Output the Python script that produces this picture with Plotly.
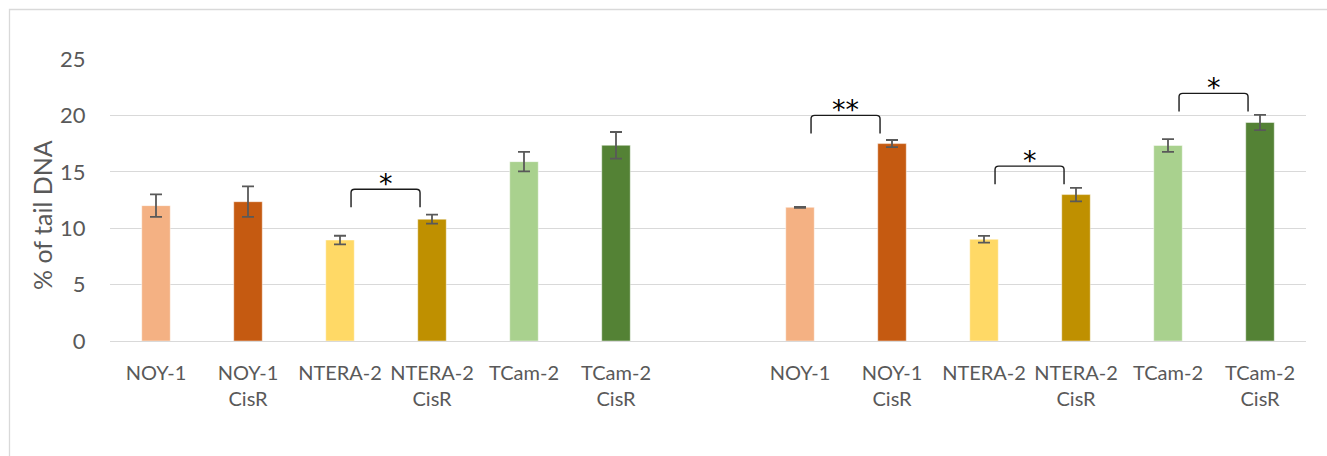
import plotly.graph_objects as go

# Cell lines shown in each of the two panels (same order in both)
cell_lines = ["NOY-1", "NOY-1<br>CisR", "NTERA-2", "NTERA-2<br>CisR", "TCam-2", "TCam-2<br>CisR"]
bar_colors = ["#F4B183", "#C55A11", "#FFD966", "#BF9000", "#A9D18E", "#548235"]

# % of tail DNA (mean and error) for the first set of bars
set1_values = [12.0, 12.35, 8.95, 10.8, 15.9, 17.35]
set1_errors = [1.0, 1.35, 0.38, 0.4, 0.87, 1.18]

# % of tail DNA (mean and error) for the second set of bars
set2_values = [11.85, 17.5, 9.02, 12.98, 17.33, 19.37]
set2_errors = [0.04, 0.32, 0.3, 0.6, 0.56, 0.68]

# Significance brackets: (set, left bar index, right bar index, bracket top, label)
brackets = [
    (0, 2, 3, 13.45, "*"),
    (1, 0, 1, 20.0, "**"),
    (1, 2, 3, 15.5, "*"),
    (1, 4, 5, 21.95, "*"),
]

y_ticks = [0, 5, 10, 15, 20, 25]

n = len(cell_lines)
gap = 1  # one empty slot between the two sets
set_offsets = [0, n + gap]

fig = go.Figure()

for s, (vals, errs) in enumerate([(set1_values, set1_errors), (set2_values, set2_errors)]):
    xs = [set_offsets[s] + i for i in range(n)]
    fig.add_trace(go.Bar(
        x=xs, y=vals, width=0.31,
        marker=dict(color=bar_colors, line=dict(color="rgba(255,255,255,0.45)", width=1)),
        error_y=dict(type="data", array=errs, visible=True, color="#595959",
                     thickness=1.8, width=6),
        showlegend=False, hoverinfo="skip",
    ))

tick_vals = [set_offsets[s] + i for s in range(2) for i in range(n)]
tick_text = cell_lines * 2

# bracket drawing (rounded corners)
leg = 1.6
rx, ry = 0.04, 0.3
for s, i, j, top, label in brackets:
    x0 = set_offsets[s] + i + 0.12
    x1 = set_offsets[s] + j - 0.13
    yb = top - leg
    path = (f"M {x0},{yb} L {x0},{top - ry} Q {x0},{top} {x0 + rx},{top} "
            f"L {x1 - rx},{top} Q {x1},{top} {x1},{top - ry} L {x1},{yb}")
    fig.add_shape(type="path", path=path, xref="x", yref="y",
                  line=dict(color="#1a1a1a", width=1.4))
    fig.add_annotation(x=(x0 + x1) / 2, y=top, xref="x", yref="y", text=label,
                       showarrow=False, yanchor="bottom", yshift=-12,
                       font=dict(family="DejaVu Sans", size=27, color="#000000"))

W, H = 1327, 456
ml, mr, mt, mb = 110, 21, 59, 115
pw, ph = W - ml - mr, H - mt - mb

# outer chart border
fig.add_shape(type="rect", xref="paper", yref="paper",
              x0=(9.5 - ml) / pw, x1=(W + 20 - ml) / pw,
              y0=-(H + 20 - (H - mb)) / ph, y1=((H - mb) - 9.5) / ph,
              line=dict(color="#d9d9d9", width=1.3), fillcolor="rgba(0,0,0,0)", layer="below")

# y-axis title
fig.add_annotation(x=(42 - ml) / pw, y=((H - mb) - 215) / ph, xref="paper", yref="paper",
                   xanchor="center", yanchor="middle",
                   text="% of tail DNA", textangle=-90, showarrow=False,
                   font=dict(family="Lato", size=25, color="#595959"))

fig.update_layout(
    width=W, height=H,
    margin=dict(l=ml, r=mr, t=mt, b=mb),
    plot_bgcolor="white", paper_bgcolor="white",
    bargap=0.69,
    font=dict(family="Lato", size=20, color="#595959"),
    xaxis=dict(range=[-0.5, 2 * n + gap - 0.5], tickmode="array", tickvals=tick_vals,
               ticktext=tick_text, showgrid=False, zeroline=False, showline=False,
               ticks="outside", ticklen=14, tickcolor="rgba(0,0,0,0)",
               tickfont=dict(size=20, color="#595959")),
    yaxis=dict(range=[0, 25], tickvals=y_ticks, showgrid=True, gridcolor="#d9d9d9",
               gridwidth=1.4, zeroline=True, zerolinecolor="#d9d9d9", zerolinewidth=1.4,
               showline=False, ticks="outside", ticklen=19, tickcolor="rgba(0,0,0,0)",
               tickfont=dict(size=22, color="#595959")),
)

fig.write_html("out.html")
